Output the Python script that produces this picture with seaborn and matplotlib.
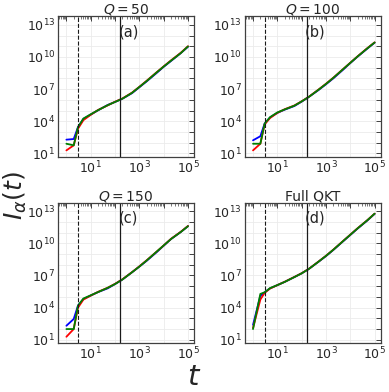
import numpy as np
import pandas as pd
import matplotlib
matplotlib.use("Agg")
import matplotlib.pyplot as plt
import matplotlib.ticker as mticker
import seaborn as sns

# tempos (chutes) e log10 de I_alpha(t)
t = [1, 2, 3, 5, 10, 20, 50, 100, 200, 500, 1e3, 2e3, 5e3, 1e4, 2e4, 5e4, 1e5]

a_blue = [2.28, 2.34, 3.45, 4.22, 4.62, 5.02, 5.52, 5.80, 6.10, 6.62, 7.17, 7.72, 8.48, 9.08, 9.62, 10.35, 10.95]
a_red = [1.28, 1.75, 3.30, 4.10, 4.60, 5.05, 5.48, 5.82, 6.12, 6.67, 7.21, 7.78, 8.55, 9.12, 9.68, 10.38, 11.00]
a_green = [1.90, 1.75, 3.45, 4.25, 4.65, 5.03, 5.50, 5.80, 6.10, 6.65, 7.20, 7.75, 8.53, 9.10, 9.65, 10.35, 10.98]

b_blue = [2.22, 2.60, 3.78, 4.35, 4.78, 5.08, 5.42, 5.83, 6.28, 6.92, 7.45, 8.00, 8.80, 9.43, 10.03, 10.78, 11.33]
b_red = [1.28, 1.90, 3.70, 4.30, 4.78, 5.12, 5.47, 5.86, 6.29, 6.97, 7.50, 8.06, 8.86, 9.46, 10.06, 10.82, 11.36]
b_green = [1.90, 1.90, 3.78, 4.38, 4.82, 5.10, 5.45, 5.85, 6.28, 6.95, 7.48, 8.05, 8.85, 9.45, 10.05, 10.80, 11.35]

c_blue = [2.31, 2.94, 4.19, 4.80, 5.13, 5.45, 5.80, 6.20, 6.62, 7.30, 7.83, 8.37, 9.15, 9.78, 10.40, 11.05, 11.60]
c_red = [1.28, 2.00, 4.00, 4.75, 5.12, 5.47, 5.86, 6.22, 6.64, 7.31, 7.85, 8.42, 9.20, 9.80, 10.42, 11.07, 11.62]
c_green = [2.00, 2.00, 4.19, 4.85, 5.15, 5.45, 5.85, 6.20, 6.62, 7.30, 7.83, 8.40, 9.20, 9.80, 10.40, 11.05, 11.60]

d_blue = [2.40, 5.10, 5.43, 5.80, 6.10, 6.40, 6.85, 7.20, 7.62, 8.29, 8.81, 9.38, 10.18, 10.78, 11.38, 12.13, 12.75]
d_red = [2.10, 4.75, 5.38, 5.78, 6.10, 6.41, 6.86, 7.21, 7.63, 8.31, 8.84, 9.41, 10.21, 10.81, 11.41, 12.16, 12.77]
d_green = [2.00, 5.28, 5.43, 5.82, 6.10, 6.40, 6.85, 7.20, 7.62, 8.30, 8.83, 9.40, 10.20, 10.80, 11.40, 12.15, 12.77]

titles = [r"$Q=50$", r"$Q=100$", r"$Q=150$", "Full QKT"]
labels = ["(a)", "(b)", "(c)", "(d)"]
t_dash = 3
t_solid = 160

panels = [(a_blue, a_red, a_green), (b_blue, b_red, b_green),
          (c_blue, c_red, c_green), (d_blue, d_red, d_green)]

sns.set_theme(style="whitegrid")
plt.rcParams.update({
    "font.family": ["DejaVu Sans"],
    "xtick.direction": "in",
    "ytick.direction": "in",
    "grid.color": "#ebebeb",
    "grid.linewidth": 0.6,
    "axes.edgecolor": "0.25",
    "axes.linewidth": 0.9,
})

fig, axes = plt.subplots(2, 2, figsize=(3.89, 3.92), dpi=100)
fig.subplots_adjust(left=0.149, right=0.979, top=0.958, bottom=0.125,
                    wspace=0.37, hspace=0.33)

palette = {"blue": "#0000ff", "red": "#ff0000", "green": "#008000"}

for ax, (blue, red, green), title, lab in zip(axes.flat, panels, titles, labels):
    df = pd.DataFrame({
        "t": t * 3,
        "I": 10 ** np.array(blue + red + green),
        "cor": ["blue"] * len(t) + ["red"] * len(t) + ["green"] * len(t),
    })
    ax.set_xscale("log")
    ax.set_yscale("log")
    sns.lineplot(data=df, x="t", y="I", hue="cor", hue_order=["blue", "red", "green"],
                 palette=palette, lw=1.3, legend=False, ax=ax)
    ax.axvline(t_dash, color="k", ls="--", lw=0.8)
    ax.axvline(t_solid, color="k", lw=0.9)

    ax.set_xlim(0.45, 1.8e5)
    ax.set_ylim(5, 6e13)

    ax.xaxis.set_major_locator(mticker.FixedLocator([10.0 ** k for k in range(0, 6)]))
    ax.yaxis.set_major_locator(mticker.FixedLocator([10.0 ** k for k in range(0, 14)]))
    ax.xaxis.set_major_formatter(mticker.FuncFormatter(
        lambda v, p: r"$10^{%d}$" % round(np.log10(v)) if round(np.log10(v)) in (1, 3, 5) else ""))
    ax.yaxis.set_major_formatter(mticker.FuncFormatter(
        lambda v, p: r"$10^{%d}$" % round(np.log10(v)) if round(np.log10(v)) in (1, 4, 7, 10, 13) else ""))
    ax.xaxis.set_minor_locator(mticker.LogLocator(base=10, subs=np.arange(2, 10), numticks=20))
    ax.yaxis.set_minor_locator(mticker.NullLocator())
    ax.tick_params(which="both", top=True, right=True, color="0.25", labelsize=9, pad=2)
    ax.tick_params(which="major", length=3.5, width=0.7)
    ax.tick_params(which="minor", length=2, width=0.5)
    ax.grid(True, which="major")
    ax.grid(False, which="minor")

    ax.set_xlabel("")
    ax.set_ylabel("")
    ax.set_title(title, fontsize=10, pad=2)
    ax.text(0.52, 0.89, lab, transform=ax.transAxes, ha="center", va="center", fontsize=10.5)

fig.text(0.04, 0.5, r"$I_{\alpha}(t)$", rotation=90, ha="center", va="center", fontsize=18)
fig.text(0.5, 0.037, r"$t$", ha="center", va="center", fontsize=21)

plt.savefig("out.png", dpi=100)
